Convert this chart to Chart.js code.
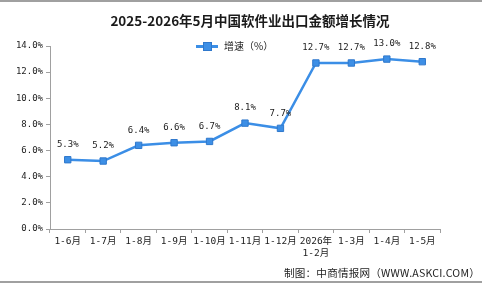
<!DOCTYPE html>
<html>
<head>
<meta charset="utf-8">
<script src="https://cdn.jsdelivr.net/npm/chart.js@4.4.1/dist/chart.umd.min.js"></script>
<style>
  body { margin: 0; background: #fff; }
  #wrap { position: relative; width: 482px; height: 284px; overflow: hidden; }
  #myChart { position: absolute; left: 0; top: 0; }
  .rule { position: absolute; left: 0; width: 482px; height: 2px; background: #a0a0a0; }
  #title {
    position: absolute; left: 0; width: 500px; top: 10px; text-align: center;
    font: bold 13.5px "Noto Sans CJK SC", sans-serif; color: #1a1a1a;
  }
  #legend {
    position: absolute; left: 196px; top: 39px; height: 14px;
    font: 10px "Noto Sans CJK SC", sans-serif; color: #222; white-space: nowrap;
  }
  #legend .ln { position: absolute; left: 0; top: 6px; width: 22px; height: 2.5px; background: #3b8ee6; }
  #legend .mk { position: absolute; left: 7px; top: 3px; width: 7px; height: 7px; background: #3d8fe6; border: 1px solid #2f78cc; }
  #legend span { position: absolute; left: 28px; top: -1px; }
  #credit {
    position: absolute; right: 2px; top: 265px; letter-spacing: 0.2px;
    font: 10.6px "Noto Sans CJK SC", sans-serif; color: #222; white-space: nowrap;
  }
</style>
</head>
<body>
<div id="wrap">
  <div class="rule" style="top:0"></div>
  <canvas id="myChart" width="482" height="284"></canvas>
  <div id="title">2025-2026年5月中国软件业出口金额增长情况</div>
  <div id="legend"><div class="ln"></div><div class="mk"></div><span>增速（%）</span></div>
  <div id="credit">制图：中商情报网（WWW.ASKCI.COM）</div>
  <div class="rule" style="top:281px"></div>
</div>
<script>
//categories and values
const categories = ["1-6月", "1-7月", "1-8月", "1-9月", "1-10月", "1-11月", "1-12月", ["2026年", "1-2月"], "1-3月", "1-4月", "1-5月"];
const growthRate = [5.3, 5.2, 6.4, 6.6, 6.7, 8.1, 7.7, 12.7, 12.7, 13.0, 12.8];
const yTicks = [0, 2, 4, 6, 8, 10, 12, 14];

const monoFont = '"DejaVu Sans Mono", "Noto Sans CJK SC", monospace';

//value labels above each point
const pointLabels = {
  id: "pointLabels",
  afterDatasetsDraw(chart) {
    const ctx = chart.ctx;
    const meta = chart.getDatasetMeta(0);
    ctx.save();
    ctx.font = "9px " + monoFont;
    ctx.fillStyle = "#222";
    ctx.textAlign = "center";
    ctx.textBaseline = "middle";
    meta.data.forEach((pt, i) => {
      ctx.fillText(growthRate[i].toFixed(1) + "%", pt.x, pt.y - 15);
    });
    ctx.restore();
  },
};

new Chart("myChart", {
  type: "line",
  data: {
    labels: categories,
    datasets: [
      {
        label: "增速（%）",
        data: growthRate,
        borderColor: "#3b8ee6",
        borderWidth: 2.5,
        backgroundColor: "#3d8fe6",
        pointStyle: "rect",
        pointRadius: 4.5,
        pointBorderColor: "#2f78cc",
        pointBorderWidth: 1,
        tension: 0,
      },
    ],
  },
  options: {
    responsive: false,
    animation: false,
    layout: { padding: { top: 46, right: 42, left: 0, bottom: 0 } },
    plugins: {
      legend: { display: false },
      title: { display: false },
      tooltip: { enabled: false },
    },
    scales: {
      x: {
        offset: true,
        grid: { offset: true, drawOnChartArea: false, tickLength: 4, color: "#a0a0a0" },
        border: { color: "#a0a0a0" },
        ticks: { font: { size: 9.5, family: monoFont }, color: "#222", padding: 3, maxRotation: 0, autoSkip: false },
        afterFit: (scale) => { scale.height = 55; },
      },
      y: {
        min: 0,
        max: 14,
        afterBuildTicks: (scale) => { scale.ticks = yTicks.map((v) => ({ value: v })); },
        grid: { drawOnChartArea: false, tickLength: 4, color: "#a0a0a0" },
        border: { color: "#a0a0a0" },
        ticks: {
          font: { size: 9, family: monoFont },
          color: "#222",
          padding: 3,
          callback: (v) => v.toFixed(1) + "%",
        },
        afterFit: (scale) => { scale.width = 50; },
      },
    },
  },
  plugins: [pointLabels],
});
</script>
</body>
</html>
